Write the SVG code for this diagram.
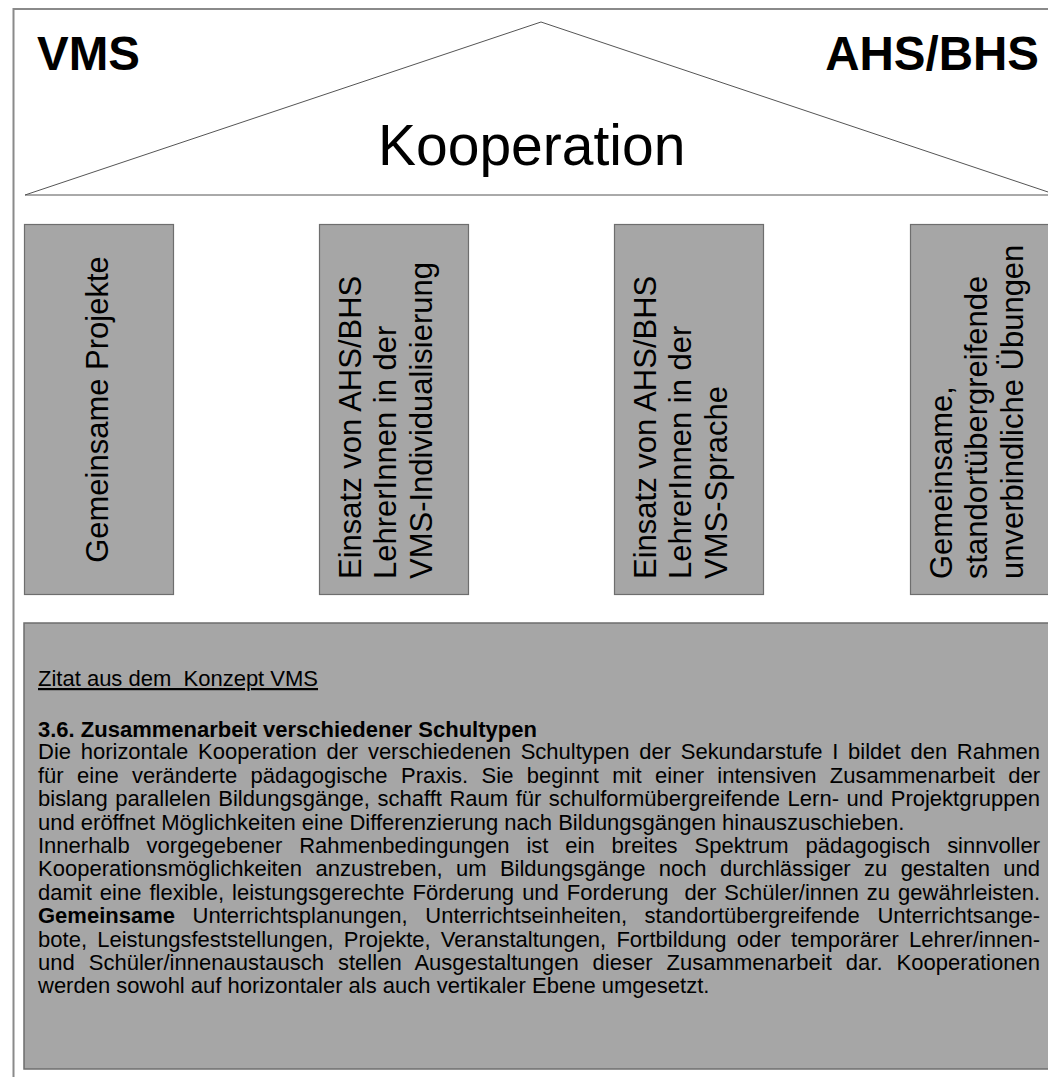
<svg xmlns="http://www.w3.org/2000/svg" width="1048" height="1077" viewBox="0 0 1048 1077">
<style>
.frame{fill:none;stroke:#8a8a8a;stroke-width:2}
.roof{fill:#fff;stroke:#555;stroke-width:1}
.pillar{fill:#a6a6a6;stroke:#6e6e6e;stroke-width:1.2}
.box{fill:#a6a6a6;stroke:#6e6e6e;stroke-width:1.5}
.t{font-family:"Liberation Sans",Arial,sans-serif;fill:#000}
.big{font-size:47.5px;font-weight:bold}
.koop{font-size:57px}
.pt{font-size:31px}
.body{font-size:22px}
.b{font-weight:bold}
</style>
<rect width="1048" height="1077" fill="#fff"/>
<g id="frame">
<path class="frame" d="M13.5,1077 V9 H1048"/>
</g>
<g id="roof">
<polygon class="roof" points="25,195 541,22 1057,195"/>
<text class="t big" x="37" y="70">VMS</text>
<text class="t big" x="1039" y="70" text-anchor="end">AHS/BHS</text>
<text class="t koop" x="378" y="165">Kooperation</text>
</g>
<g id="pillar1">
<rect class="pillar" x="24.5" y="224.5" width="149" height="370"/>
<text class="t pt" transform="translate(108,409.5) rotate(-90)" text-anchor="middle">Gemeinsame Projekte</text>
</g>
<g id="pillar2">
<rect class="pillar" x="319.5" y="224.5" width="149" height="370"/>
<text class="t pt" transform="translate(360.5,579) rotate(-90)"><tspan x="0" y="0">Einsatz von AHS/BHS</tspan><tspan x="0" dy="35.8">LehrerInnen in der</tspan><tspan x="0" dy="35.8">VMS-Individualisierung</tspan></text>
</g>
<g id="pillar3">
<rect class="pillar" x="614.5" y="224.5" width="149" height="370"/>
<text class="t pt" transform="translate(655.5,579) rotate(-90)"><tspan x="0" y="0">Einsatz von AHS/BHS</tspan><tspan x="0" dy="35.8">LehrerInnen in der</tspan><tspan x="0" dy="35.8">VMS-Sprache</tspan></text>
</g>
<g id="pillar4">
<rect class="pillar" x="910.5" y="224.5" width="149" height="370"/>
<text class="t pt" transform="translate(951.5,579) rotate(-90)"><tspan x="0" y="0">Gemeinsame,</tspan><tspan x="0" dy="35.8">standortübergreifende</tspan><tspan x="0" dy="35.8">unverbindliche Übungen</tspan></text>
</g>
<g id="quote">
<rect class="box" x="24" y="623" width="1040" height="446"/>
<text class="t body" x="38" y="686" text-decoration="underline" style="white-space:pre">Zitat aus dem  Konzept VMS</text>
<text class="t body b" x="38" y="736.7">3.6. Zusammenarbeit verschiedener Schultypen</text>
<text class="t body" x="38" y="759.3" word-spacing="3.6" textLength="1002" lengthAdjust="spacing">Die horizontale Kooperation der verschiedenen Schultypen der Sekundarstufe I bildet den Rahmen</text>
<text class="t body" x="38" y="782.7" word-spacing="7.3" textLength="1002" lengthAdjust="spacing">für eine veränderte pädagogische Praxis. Sie beginnt mit einer intensiven Zusammenarbeit der</text>
<text class="t body" x="38" y="806.1" word-spacing="1.4" textLength="1002" lengthAdjust="spacing">bislang parallelen Bildungsgänge, schafft Raum für schulformübergreifende Lern- und Projektgruppen</text>
<text class="t body" x="38" y="829.5">und eröffnet Möglichkeiten eine Differenzierung nach Bildungsgängen hinauszuschieben.</text>
<text class="t body" x="38" y="852.9" word-spacing="10.8" textLength="1002" lengthAdjust="spacing">Innerhalb vorgegebener Rahmenbedingungen ist ein breites Spektrum pädagogisch sinnvoller</text>
<text class="t body" x="38" y="876.3" word-spacing="7.25" textLength="1002" lengthAdjust="spacing">Kooperationsmöglichkeiten anzustreben, um Bildungsgänge noch durchlässiger zu gestalten und</text>
<text class="t body" x="38" y="899.7" word-spacing="1.9" textLength="1002" lengthAdjust="spacing" style="white-space:pre">damit eine flexible, leistungsgerechte Förderung und Forderung  der Schüler/innen zu gewährleisten.</text>
<text class="t body" x="38" y="923.1" word-spacing="11.5" textLength="1002" lengthAdjust="spacing"><tspan class="b">Gemeinsame</tspan> Unterrichtsplanungen, Unterrichtseinheiten, standortübergreifende Unterrichtsange-</text>
<text class="t body" x="38" y="946.5" word-spacing="4.1" textLength="1002" lengthAdjust="spacing">bote, Leistungsfeststellungen, Projekte, Veranstaltungen, Fortbildung oder temporärer Lehrer/innen-</text>
<text class="t body" x="38" y="969.9" word-spacing="7.8" textLength="1002" lengthAdjust="spacing">und Schüler/innenaustausch stellen Ausgestaltungen dieser Zusammenarbeit dar. Kooperationen</text>
<text class="t body" x="38" y="993.3">werden sowohl auf horizontaler als auch vertikaler Ebene umgesetzt.</text>
</g>
</svg>
